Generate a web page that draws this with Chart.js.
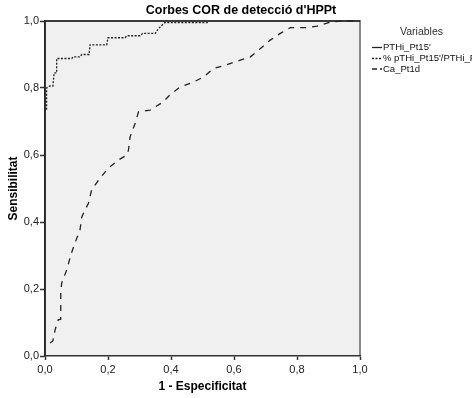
<!DOCTYPE html>
<html>
<head>
<meta charset="utf-8">
<script src="https://cdn.jsdelivr.net/npm/chart.js@4.4.1/dist/chart.umd.min.js"></script>
<style>
  html, body { margin: 0; padding: 0; background: #fff; }
  #wrap { width: 472px; height: 398px; }
</style>
</head>
<body>
<div id="wrap"><canvas id="chart" width="472" height="398"></canvas></div>
<script>
// ROC curves, values
const seriesNames = ["PTHi_Pt15'", "% pTHi_Pt15'/PTHi_Pr", "Ca_Pt1d"];

const pthiX = [0, 0, 1];
const pthiY = [0, 1, 1];

const ratioX = [0.005, 0.005, 0.015, 0.025, 0.029, 0.037, 0.037, 0.085, 0.09, 0.11, 0.117, 0.14, 0.143, 0.196,
                0.2, 0.254, 0.26, 0.302, 0.31, 0.35, 0.36, 0.38, 0.518];
const ratioY = [0.735, 0.8, 0.806, 0.806, 0.845, 0.845, 0.888, 0.888, 0.893, 0.893, 0.9, 0.9, 0.929, 0.929,
                0.95, 0.95, 0.956, 0.956, 0.963, 0.963, 0.977, 0.995, 0.995];

const caX = [0.016, 0.025, 0.032, 0.042, 0.05, 0.05, 0.053, 0.069, 0.082, 0.095, 0.111, 0.117, 0.138, 0.148,
             0.17, 0.2, 0.233, 0.26, 0.265, 0.27, 0.286, 0.297, 0.334, 0.376, 0.397, 0.429, 0.472, 0.503,
             0.535, 0.572, 0.62, 0.652, 0.684, 0.715, 0.747, 0.779, 0.832, 0.864, 0.906, 0.948, 1];
const caY = [0.039, 0.045, 0.078, 0.108, 0.11, 0.188, 0.218, 0.257, 0.302, 0.337, 0.376, 0.416, 0.456, 0.496,
             0.525, 0.56, 0.585, 0.6, 0.615, 0.654, 0.694, 0.729, 0.734, 0.759, 0.78, 0.803, 0.818, 0.833,
             0.858, 0.868, 0.883, 0.893, 0.918, 0.943, 0.963, 0.98, 0.98, 0.985, 0.997, 1, 1];

const tickValues = [0, 0.2, 0.4, 0.6, 0.8, 1];

const lineColor = '#222';
const dashes = [[], [2, 1.5], [6, 6]];
const FONT = 'Arial, "Liberation Sans", sans-serif';

function toPoints(xs, ys) {
    return xs.map((x, i) => ({x: x, y: ys[i]}));
}

function fmt(v) {
    return Number(v).toFixed(1).replace('.', ',');
}

const seriesData = [toPoints(pthiX, pthiY), toPoints(ratioX, ratioY), toPoints(caX, caY)];

const datasets = seriesNames.map((name, i) => ({
    label: name,
    data: seriesData[i],
    showLine: true,
    borderColor: lineColor,
    borderWidth: i == 0 ? 1.6 : 1.3,
    borderDash: dashes[i],
    pointRadius: 0,
    fill: false,
    tension: 0,
    clip: 3
}));

// plot background, frame, title and legend
const decor = {
    id: 'decor',
    beforeDraw: (chart) => {
        const {ctx, chartArea: a} = chart;
        ctx.save();
        ctx.fillStyle = '#f0f0f0';
        ctx.fillRect(a.left, a.top, a.right - a.left, a.bottom - a.top);
        ctx.strokeStyle = '#888';
        ctx.lineWidth = 2;
        ctx.beginPath();
        ctx.moveTo(a.left, a.top);
        ctx.lineTo(a.right, a.top);
        ctx.lineTo(a.right, a.bottom);
        ctx.stroke();
        ctx.restore();
    },
    afterDraw: (chart) => {
        const ctx = chart.ctx;
        ctx.save();
        ctx.fillStyle = '#000';
        ctx.font = 'bold 12.5px ' + FONT;
        ctx.textAlign = 'center';
        ctx.textBaseline = 'middle';
        ctx.fillText("Corbes COR de detecció d'HPPt", 241, 11);

        ctx.fillStyle = '#333';
        ctx.font = '10.5px ' + FONT;
        ctx.fillText('Variables', 421.5, 32);

        ctx.font = '9.5px ' + FONT;
        ctx.textAlign = 'left';
        const rows = [47.5, 58.5, 69];
        chart.data.datasets.forEach((ds, i) => {
            ctx.strokeStyle = lineColor;
            ctx.lineWidth = 1.3;
            ctx.setLineDash(i == 2 ? [5, 3] : ds.borderDash);
            ctx.beginPath();
            ctx.moveTo(372, rows[i]);
            ctx.lineTo(382, rows[i]);
            ctx.stroke();
            ctx.fillStyle = '#111';
            ctx.fillText(ds.label, 383, rows[i]);
        });
        ctx.restore();
    }
};

new Chart(document.getElementById('chart'), {
    type: 'scatter',
    data: {datasets: datasets},
    options: {
        responsive: false,
        animation: false,
        layout: {padding: {top: 21, right: 112, left: 0, bottom: 0}},
        plugins: {
            legend: {display: false},
            title: {display: false},
            tooltip: {enabled: false}
        },
        scales: {
            x: {
                type: 'linear', min: 0, max: 1,
                afterBuildTicks: s => { s.ticks = tickValues.map(v => ({value: v})); },
                afterFit: s => { s.height = 42; },
                ticks: {callback: fmt, color: '#222', font: {family: FONT, size: 11}, padding: 3, maxRotation: 0},
                grid: {drawOnChartArea: false, tickLength: 4, color: '#333', tickWidth: 1.5},
                border: {color: '#333', width: 1.5},
                title: {display: true, text: '1 - Especificitat', color: '#000',
                        font: {family: FONT, size: 12, weight: 'bold'}, padding: {top: 0, bottom: 4}}
            },
            y: {
                type: 'linear', min: 0, max: 1,
                afterBuildTicks: s => { s.ticks = tickValues.map(v => ({value: v})); },
                afterFit: s => { s.width = 45; },
                ticks: {callback: fmt, color: '#222', font: {family: FONT, size: 11}, padding: 1},
                grid: {drawOnChartArea: false, tickLength: 5, color: '#333', tickWidth: 1.5},
                border: {color: '#333', width: 1.5},
                title: {display: true, text: 'Sensibilitat', color: '#000',
                        font: {family: FONT, size: 12, weight: 'bold'}, padding: {top: 6, bottom: 0}}
            }
        }
    },
    plugins: [decor]
});
</script>
</body>
</html>
